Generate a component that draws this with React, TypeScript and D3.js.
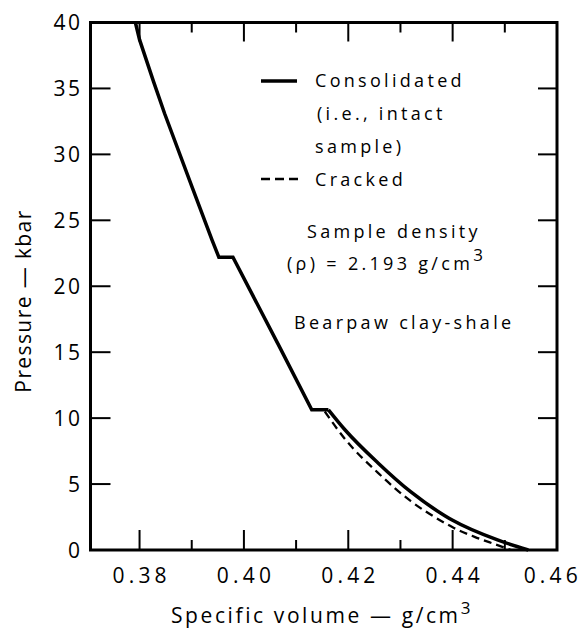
import * as d3 from "d3";

// x ticks (specific volume, g/cm3)
const volumeMajor = [0.38, 0.4, 0.42, 0.44, 0.46];
const volumeMinor = [0.39, 0.41, 0.43, 0.45];
const volumeLabels = ["0.38", "0.40", "0.42", "0.44", "0.46"];
// y ticks (pressure, kbar)
const pressureTicks = [0, 5, 10, 15, 20, 25, 30, 35, 40];

// consolidated sample: straight part with the two steps
const consolidatedUpper: [number, number][] = [
  [0.3792, 40],
  [0.38, 38.7],
  [0.3827, 35.5],
  [0.3848, 33.1],
  [0.39, 27.6],
  [0.3939, 23.5],
  [0.3952, 22.2],
  [0.3979, 22.2],
  [0.4067, 15.5],
  [0.413, 10.63],
  [0.4162, 10.63],
];
// consolidated sample: curved tail below 10 kbar
const consolidatedLower: [number, number][] = [
  [0.4162, 10.63],
  [0.4194, 9.1],
  [0.4257, 6.6],
  [0.432, 4.4],
  [0.4385, 2.6],
  [0.44, 2.25],
  [0.4486, 0.76],
  [0.4545, 0],
];
// cracked sample
const cracked: [number, number][] = [
  [0.4155, 10.5],
  [0.4194, 8.4],
  [0.4257, 5.85],
  [0.432, 3.7],
  [0.4385, 2.05],
  [0.44, 1.72],
  [0.4442, 1.0],
  [0.448, 0.45],
  [0.4512, 0],
];

const W = 584;
const H = 635;
const FONT = "'Open Sans', sans-serif";

export default function App() {
  const x = d3.scaleLinear().domain([0.3706, 0.46]).range([90.5, 557]);
  const y = d3.scaleLinear().domain([0, 40]).range([550, 22.5]);
  const [x0, x1] = x.range();
  const [y0, y1] = y.range();

  const straightLine = d3
    .line<[number, number]>()
    .x((d) => x(d[0]))
    .y((d) => y(d[1]));
  const smoothLine = d3
    .line<[number, number]>()
    .x((d) => x(d[0]))
    .y((d) => y(d[1]))
    .curve(d3.curveMonotoneX);

  const tickLs = 4.2;
  const yLs = 2.5;

  return (
    <svg
      width={W}
      height={H}
      style={{ position: "absolute", left: 0, top: 0, display: "block", background: "#fff" }}
      fontFamily={FONT}
    >
      {/* frame */}
      <rect
        x={x0}
        y={y1}
        width={x1 - x0}
        height={y0 - y1}
        fill="none"
        stroke="#000"
        strokeWidth={3}
      />

      {/* y ticks, both sides */}
      {pressureTicks
        .filter((p) => p > 0 && p < 40)
        .map((p) => (
          <g key={"yt" + p} stroke="#000" strokeWidth={2}>
            <line x1={x0} x2={x0 + 20} y1={y(p)} y2={y(p)} />
            <line x1={x1 - 19} x2={x1} y1={y(p)} y2={y(p)} />
          </g>
        ))}
      {pressureTicks.map((p) => (
        <text
          key={"yl" + p}
          x={80 + yLs}
          y={y(p)}
          dy="0.36em"
          textAnchor="end"
          fontSize={21}
          letterSpacing={yLs}
        >
          {p}
        </text>
      ))}

      {/* x ticks, bottom and top */}
      {volumeMajor
        .filter((v) => v < 0.46)
        .map((v) => (
          <g key={"xt" + v} stroke="#000" strokeWidth={2}>
            <line x1={x(v)} x2={x(v)} y1={y0} y2={y0 - 20} />
            <line x1={x(v)} x2={x(v)} y1={y1} y2={y1 + 19} />
          </g>
        ))}
      {volumeMinor.map((v) => (
        <g key={"xm" + v} stroke="#000" strokeWidth={2}>
          <line x1={x(v)} x2={x(v)} y1={y0} y2={y0 - 10} />
          <line x1={x(v)} x2={x(v)} y1={y1} y2={y1 + 10} />
        </g>
      ))}
      {volumeMajor.map((v, i) => {
        const last = i === volumeMajor.length - 1;
        return (
          <text
            key={"xl" + v}
            x={last ? W - 2 : x(v) + tickLs / 2}
            y={583}
            textAnchor={last ? "end" : "middle"}
            fontSize={21}
            letterSpacing={tickLs}
          >
            {volumeLabels[i]}
          </text>
        );
      })}

      {/* axis titles */}
      <text x={322} y={623} textAnchor="middle" fontSize={21} letterSpacing={2.6}>
        Specific volume — g/cm
        <tspan fontSize={17} dy={-9}>
          3
        </tspan>
      </text>
      <text
        transform="translate(31,301) rotate(-90)"
        textAnchor="middle"
        fontSize={21}
        letterSpacing={1.4}
      >
        Pressure — kbar
      </text>

      {/* curves */}
      <path
        d={straightLine(consolidatedUpper) ?? ""}
        fill="none"
        stroke="#000"
        strokeWidth={3.5}
        strokeLinejoin="miter"
      />
      <path
        d={smoothLine(consolidatedLower) ?? ""}
        fill="none"
        stroke="#000"
        strokeWidth={3.5}
      />
      <path
        d={smoothLine(cracked) ?? ""}
        fill="none"
        stroke="#000"
        strokeWidth={2.3}
        strokeDasharray="8,5"
      />

      {/* legend */}
      <g fontSize={18} letterSpacing={3.3}>
        <line x1={261} x2={297} y1={81} y2={81} stroke="#000" strokeWidth={3.5} />
        <text x={315} y={87}>Consolidated</text>
        <text x={317} y={120}>(i.e., intact</text>
        <text x={315} y={153}>sample)</text>
        <line
          x1={261}
          x2={299}
          y1={179}
          y2={179}
          stroke="#000"
          strokeWidth={2.5}
          strokeDasharray="9,5"
        />
        <text x={315} y={186}>Cracked</text>

        <text x={307} y={238}>Sample density</text>
        <text x={287} y={270}>
          (ρ) = 2.193 g/cm
          <tspan fontSize={17} dy={-9}>
            3
          </tspan>
        </text>
        <text x={294} y={329}>Bearpaw clay-shale</text>
      </g>
    </svg>
  );
}
